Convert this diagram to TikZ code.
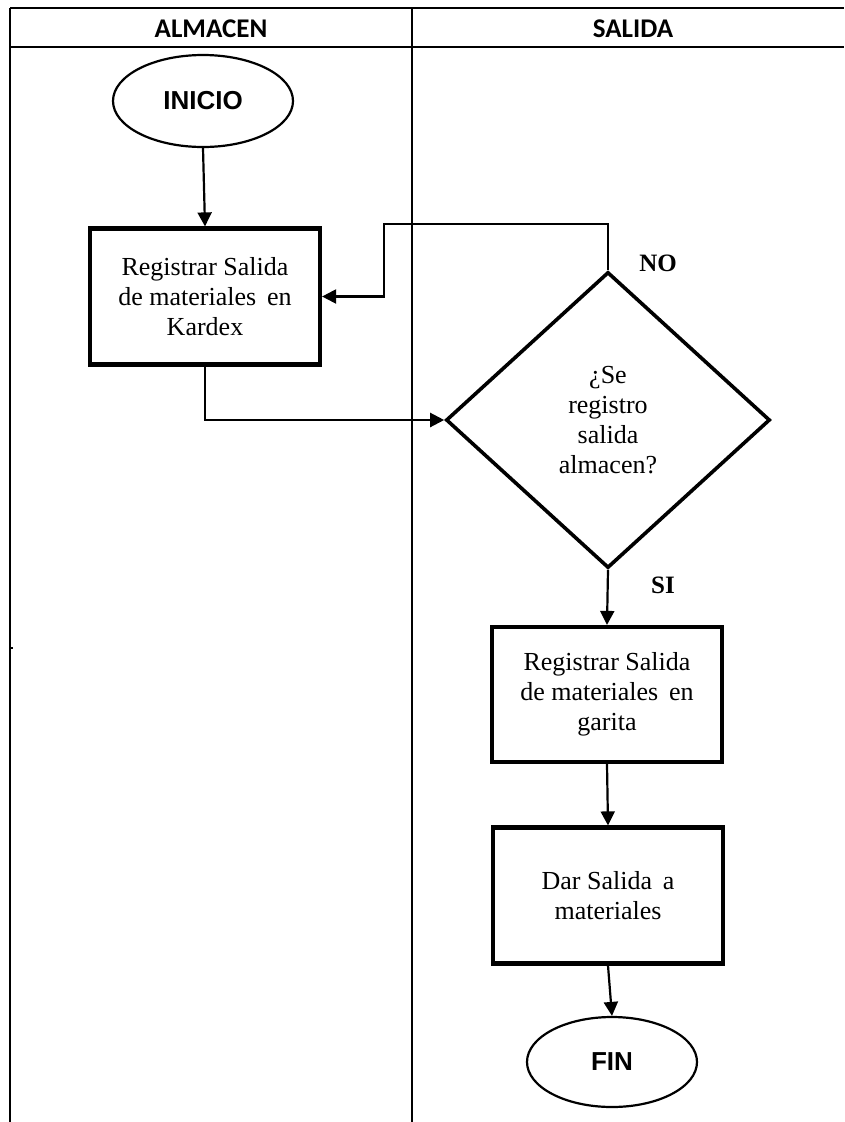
\documentclass[tikz,border=0pt]{standalone}
\usepackage{fontspec}
\setmainfont{Liberation Serif}
\newfontfamily\headfont{Carlito}
\newfontfamily\termfont{Liberation Sans}
\usetikzlibrary{shapes.geometric,arrows.meta}

\tikzset{
  laneline/.style={line width=2.4pt},
  procbox/.style={draw, rectangle, line width=4.2pt, minimum width=230pt,
    minimum height=136pt, inner sep=0pt, align=center,
    font=\fontsize{26}{30}\selectfont},
  termnode/.style={draw, ellipse, line width=2.2pt, inner sep=0pt,
    font=\termfont\bfseries\fontsize{26}{30}\selectfont},
  decision/.style={draw, diamond, line width=3.6pt, minimum width=324pt,
    minimum height=296pt, inner sep=0pt, align=center,
    font=\fontsize{26}{30}\selectfont},
  headtext/.style={anchor=base, font=\headfont\bfseries\fontsize{27}{30}\selectfont},
  branch/.style={anchor=base, font=\bfseries\fontsize{25}{28}\selectfont},
  flow/.style={line width=2.2pt, -{Triangle[length=14pt,width=14pt]}},
}

\begin{document}
\begin{tikzpicture}[x=1pt, y=-1pt]
  \useasboundingbox (0,0) rectangle (844,1122);

  % swimlane frame
  \draw[laneline] (10,8) -- (844,8);
  \draw[laneline] (10,47) -- (844,47);
  \draw[laneline] (10,8) -- (10,1122);
  \draw[laneline] (412,8) -- (412,1122);
  \draw[line width=1.2pt] (10,648) -- (13,648);

  \node[headtext] (hAlm) at (211,37.5) {ALMACEN};
  \node[headtext] (hSal) at (633,37.5) {SALIDA};

  % shapes
  \node[termnode, minimum width=180pt, minimum height=92pt] (ini) at (203,101) {INICIO};
  \node[procbox] (kardex) at (205,296.5) {Registrar Salida\\de materiales\, en\\Kardex};
  \node[decision] (dia) at (608,420) {¿Se\\registro\\salida\\almacen?};
  \node[procbox, minimum height=135pt] (garita) at (607,694.5) {Registrar Salida\\de materiales\, en\\garita};
  \node[procbox] (dar) at (608,895.5) {Dar Salida\, a\\materiales};
  \node[termnode, minimum width=170pt, minimum height=90pt] (fin) at (612,1062) {FIN};

  \node[branch] (lblNo) at (658,271) {NO};
  \node[branch] (lblSi) at (663,593) {SI};

  % connectors
  \coordinate (loopTop) at (384,224);
  \draw[flow] (ini.south) -- (kardex.north);
  \draw[flow] (kardex.south) |- (dia.west);
  \draw[flow] (dia.north) |- (loopTop) |- (kardex.east);
  \draw[flow] (dia.south) -- (garita.north);
  \draw[flow] (garita.south) -- (dar.north);
  \draw[flow] (dar.south) -- (fin.north);
\end{tikzpicture}
\end{document}
